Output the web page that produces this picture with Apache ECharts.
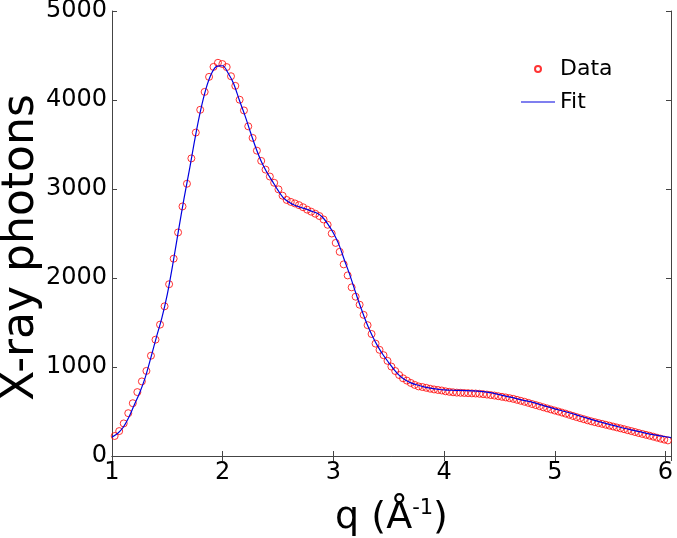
<!DOCTYPE html>
<html><head><meta charset="utf-8">
<script src="https://cdn.jsdelivr.net/npm/echarts@6/dist/echarts.min.js"></script>
<style>html,body{margin:0;padding:0;background:#fff}#c{width:677px;height:538px}</style>
</head><body><div id="c"></div>
<script>
// Measured data (q in 1/Angstrom, photon counts)
const dataQ = [
 1.024,1.065,1.106,1.147,1.188,1.229,1.270,1.311,1.352,1.393,1.434,1.475,1.516,1.557,
 1.597,1.637,1.677,1.717,1.757,1.797,1.837,1.877,1.917,1.957,1.997,
 2.036,2.075,2.114,2.153,2.192,2.231,2.270,2.309,2.348,2.387,2.426,2.465,2.504,
 2.541,2.578,2.615,2.652,2.689,2.726,2.763,2.800,2.837,2.874,2.911,2.948,2.985,
 3.021,3.057,3.093,3.129,3.165,3.201,3.237,3.273,3.309,3.345,3.381,3.417,3.453,3.489,
 3.524,3.559,3.594,3.629,3.664,3.699,3.734,3.769,3.804,3.839,3.874,3.909,3.944,3.979,
 4.013,4.047,4.081,4.115,4.149,4.183,4.217,4.251,4.285,4.319,4.353,4.387,4.421,4.455,4.489,
 4.523,4.557,4.591,4.625,4.659,4.693,4.727,4.761,4.795,4.829,4.863,4.897,4.931,4.965,4.999,
 5.032,5.065,5.098,5.131,5.164,5.197,5.230,5.263,5.296,5.329,5.362,5.395,5.428,5.461,5.494,
 5.527,5.560,5.593,5.626,5.659,5.692,5.725,5.758,5.791,5.824,5.857,5.890,5.923,5.956,5.989,6.022
];
const dataV = [
 225,280,366,481,593,718,838,956,1127,1307,1476,1682,1930,2217,
 2512,2804,3059,3344,3634,3890,4091,4260,4372,4418,4404,
 4370,4267,4159,4003,3883,3704,3574,3431,3316,3218,3140,3070,2996,
 2925,2877,2855,2838,2819,2795,2768,2745,2722,2696,2658,2598,2500,
 2394,2294,2153,2029,1895,1790,1700,1586,1470,1371,1263,1193,1133,1069,
 1005,955,910,873,847,821,799,782,775,766,756,748,742,736,
 727,721,716,712,710,708,706,704,702,699,695,690,685,679,672,
 665,658,650,642,631,620,609,597,584,572,560,547,535,523,511,
 500,488,476,463,450,437,425,413,401,390,380,370,361,351,341,
 331,321,311,301,290,280,269,258,248,238,228,217,206,195,184,175
];
// Fitted curve
const fitQ = [
 1.00,1.05,1.10,1.15,1.20,1.25,1.30,1.35,
 1.40,1.45,1.50,1.55,1.60,1.65,1.70,1.75,1.80,1.85,1.90,1.95,
 2.00,2.05,2.10,2.15,2.20,2.25,2.30,2.35,2.40,2.45,2.50,2.55,2.60,2.65,2.70,2.75,2.80,2.85,2.90,2.95,
 3.00,3.05,3.10,3.15,3.20,3.25,3.30,3.35,3.40,3.45,3.50,3.55,3.60,3.65,3.70,3.75,3.80,3.85,3.90,3.95,
 4.00,
 4.1,4.2,4.3,4.4,4.5,4.6,4.7,4.8,4.9,5.0,5.1,5.2,5.3,5.4,5.5,5.6,5.7,5.8,5.9,6.0,
 6.05
];
const fitV = [
 212,252,320,430,570,710,880,1100,
 1330,1550,1820,2160,2530,2890,3220,3570,3880,4130,4300,4380,
 4385,4300,4180,4000,3830,3640,3460,3305,3185,3085,2985,2898,2852,2818,2795,2776,2752,2730,2685,2605,
 2505,2375,2200,2030,1840,1660,1495,1355,1235,1135,1050,968,900,855,822,800,783,768,756,748,
 742,
 738,735,728,714,690,661,630,602,566,530,497,460,422,386,352,320,291,263,238,216,
 206
];
const seriesNames = ['Data', 'Fit'];
const xTitle = 'q (Å{sup|-1})';
const yTitle = 'X-ray photons';

const FONT = 'DejaVu Sans';
const frame = '#444';
const chart = echarts.init(document.getElementById('c'), null, {renderer: 'canvas'});
const axisCommon = {
  axisLine: {show: true, lineStyle: {color: frame, width: 1}},
  axisTick: {show: true, inside: true, length: 5, lineStyle: {color: frame}},
  splitLine: {show: false}
};
chart.setOption({
  animation: false,
  backgroundColor: '#fff',
  textStyle: {fontFamily: FONT},
  grid: {left: 112, right: 6, top: 11, bottom: 82, containLabel: false, outerBoundsMode: 'none'},
  legend: {
    orient: 'vertical', left: 521, top: 58, padding: 0,
    itemWidth: 34, itemHeight: 6, itemGap: 11,
    textStyle: {fontFamily: FONT, fontSize: 22, color: '#000', lineHeight: 22},
    data: [
      {name: seriesNames[0]},
      {name: seriesNames[1], icon: 'path://M0,0 H34 V1.2 H0 Z'}
    ]
  },
  xAxis: [
    Object.assign({}, axisCommon, {
      type: 'value', position: 'bottom', min: 1, max: 6.05, interval: 1,
      axisLabel: {fontFamily: FONT, fontSize: 24, color: '#000', margin: 5,
        formatter: v => Number.isInteger(v) ? String(v) : ''},
      name: xTitle, nameLocation: 'middle', nameGap: 42, nameMoveOverlap: false,
      nameTextStyle: {fontFamily: FONT, fontSize: 38, color: '#000', lineHeight: 40,
        rich: {sup: {fontFamily: FONT, fontSize: 21, color: '#000', verticalAlign: 'top', lineHeight: 40}}}
    }),
    Object.assign({}, axisCommon, {
      type: 'value', position: 'top', min: 1, max: 6.05, interval: 1,
      axisLabel: {show: false}
    })
  ],
  yAxis: [
    Object.assign({}, axisCommon, {
      type: 'value', position: 'left', min: 0, max: 5000, interval: 1000,
      axisLabel: {fontFamily: FONT, fontSize: 24, color: '#000', margin: 5,
        formatter: v => String(v)},
      name: yTitle, nameLocation: 'middle', nameGap: 68, nameRotate: 90, nameMoveOverlap: false,
      nameTextStyle: {fontFamily: FONT, fontSize: 44, color: '#000', padding: [0, 28, 0, 0]}
    }),
    Object.assign({}, axisCommon, {
      type: 'value', position: 'right', min: 0, max: 5000, interval: 1000,
      axisLabel: {show: false}
    })
  ],
  series: [
    {
      name: seriesNames[0], type: 'scatter', xAxisIndex: 0, yAxisIndex: 0,
      symbol: 'circle', symbolSize: 7,
      itemStyle: {color: 'rgba(255,255,255,0)', borderColor: '#ff0000', borderWidth: 1},
      data: dataQ.map((q, i) => [q, dataV[i]]), z: 2
    },
    {
      name: seriesNames[1], type: 'line', xAxisIndex: 0, yAxisIndex: 0,
      showSymbol: false, symbol: 'none', smooth: 0.3,
      lineStyle: {color: '#0000e0', width: 1.2},
      itemStyle: {color: '#0000e0'},
      data: fitQ.map((q, i) => [q, fitV[i]]), z: 3
    }
  ]
});
</script>
</body></html>
